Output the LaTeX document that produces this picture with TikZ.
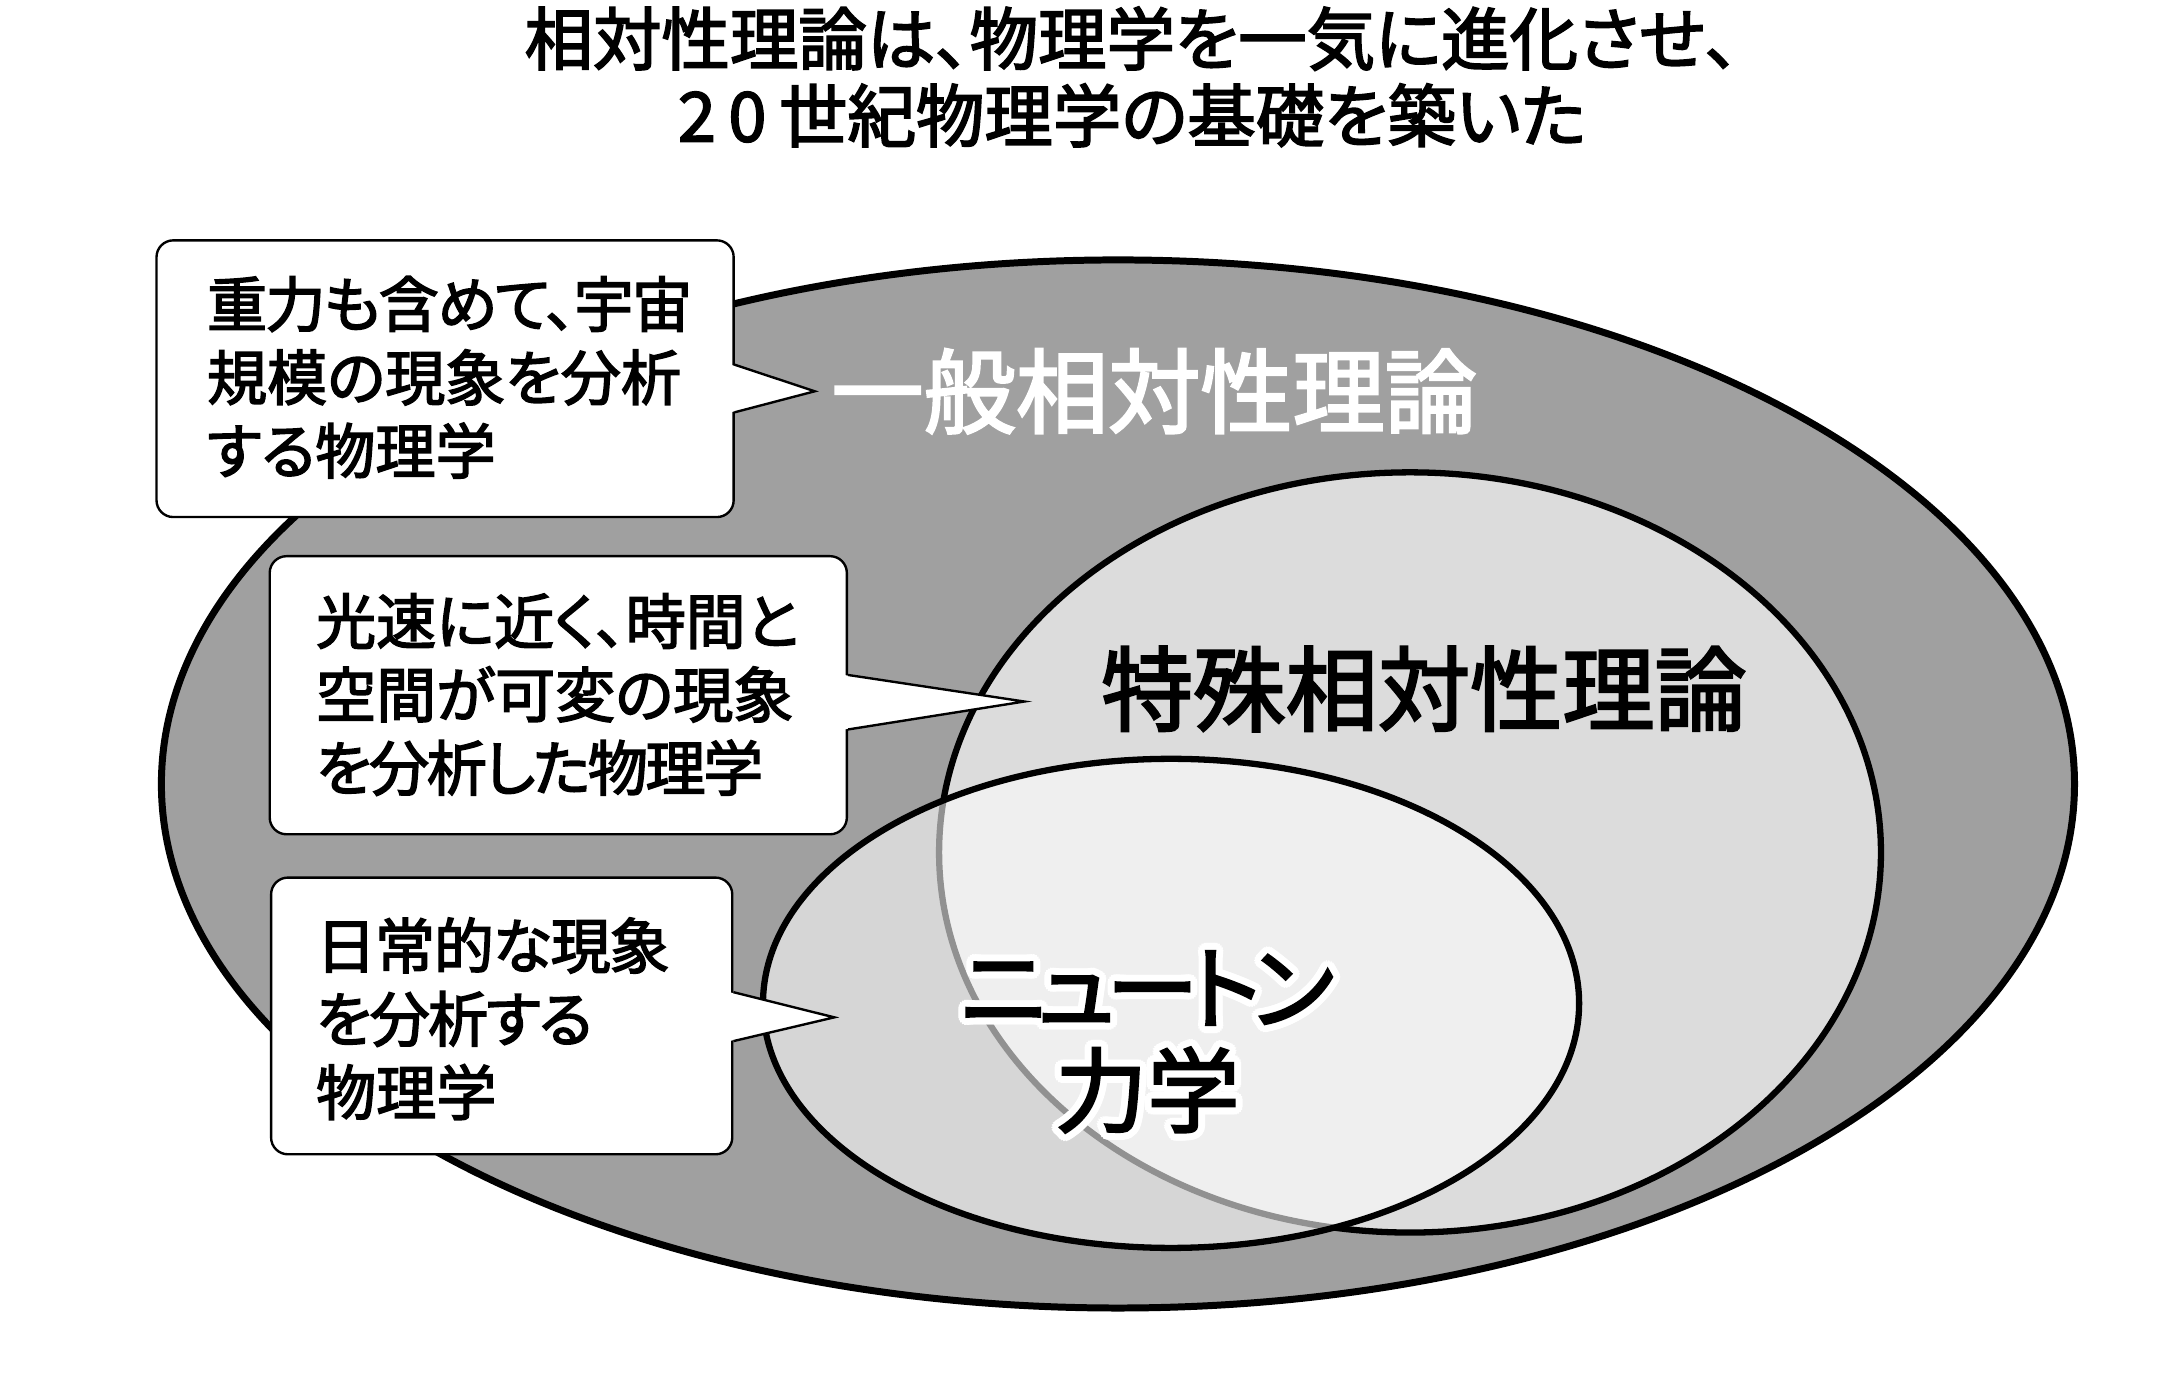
\documentclass[tikz,border=0pt]{standalone}
\usepackage{fontspec}
\setmainfont{Noto Sans CJK JP}[FakeBold=2.5, RawFeature=+palt]
\usetikzlibrary{calc}
\definecolor{outergray}{RGB}{160,160,160}
\definecolor{midgray}{RGB}{220,220,220}
\newcommand\boxfont{\fontsize{43}{52.5}\selectfont}
\newcommand\titlefont{\fontsize{49}{55}\selectfont}
\newcommand\bigfont{\fontsize{66}{73}\selectfont}
\newcommand\tight[2]{{\addfontfeature{LetterSpace=#1}#2}}
\tikzset{
  ell/.style={draw=black, line width=4.5pt},
  cbox/.style={draw=black, fill=white, rounded corners=12pt, line width=1.7pt, inner sep=0pt},
  ctext/.style={font=\boxfont, align=left, inner sep=0pt, anchor=west},
  ptr/.style={draw=black, line width=1.7pt, line join=miter},
  biglbl/.style={font=\bigfont, inner sep=0pt, align=center},
}
\begin{document}
\begin{tikzpicture}[x=1pt,y=-1pt]
\useasboundingbox (0,0) rectangle (1560,990.4);
\fill[white] (0,0) rectangle (1560,990.4);
% title
\node[font=\titlefont, align=center, inner sep=0pt] (title) at (810,55) {相対性理論は、物理学を一気に進化させ、\\2\kern9pt0\kern9pt世紀物理学の基礎を築いた};
% ellipses
\draw[ell, line width=5pt, fill=outergray] (800,561) ellipse [x radius=684.5pt, y radius=375pt];
\draw[ell, fill=midgray] (1009,610) ellipse [x radius=337pt, y radius=272pt];
\fill[white, fill opacity=0.57] (838,718) ellipse [x radius=292pt, y radius=175pt];
\draw[ell] (838,718) ellipse [x radius=292pt, y radius=175pt];
% labels
\node[biglbl, text=white] (gen) at (826,280) {一般相対性理論};
\node[biglbl, text=black] (spe) at (1019,493) {特殊相対性理論};
\coordinate (n1) at (821,707);
\coordinate (n2) at (821,780);
\newcommand\newtontext{ニ\kern-6ptュ\kern-6ptー\kern-6ptト\kern-6ptン}
\foreach \a in {0,20,...,340} {
  \node[biglbl, text=white] (halo1-\a) at ($(n1)+(\a:5)$) {\newtontext};
  \node[biglbl, text=white] (halo2-\a) at ($(n2)+(\a:5)$) {力学};
}
\node[biglbl, text=black] (newt) at (n1) {\newtontext};
\node[biglbl, text=black] (mech) at (n2) {力学};
% callout 1
\node[cbox, minimum width=413pt, minimum height=198pt] (b1) at (318.5,271) {};
\coordinate (p1) at (583,280);
\fill[white] ($(b1.east |- 0,261)+(-3,0)$) -- (p1) -- ($(b1.east |- 0,295)+(-3,0)$) -- cycle;
\draw[ptr] (b1.east |- 0,261) -- (p1) -- (b1.east |- 0,295);
\node[ctext] (t1) at (148,270) {\tight{-3}{重力も含めて、宇宙}\\規模の現象を分析\\する物理学};
% callout 2
\node[cbox, minimum width=413pt, minimum height=199pt] (b2) at (399.5,497.5) {};
\coordinate (p2) at (733,502);
\fill[white] ($(b2.east |- 0,483)+(-3,0)$) -- (p2) -- ($(b2.east |- 0,522)+(-3,0)$) -- cycle;
\draw[ptr] (b2.east |- 0,483) -- (p2) -- (b2.east |- 0,522);
\node[ctext] (t2) at (226,497) {光速に近く、時間と\\空間が可変の現象\\\tight{-4}{を分析した物理学}};
% callout 3
\node[cbox, minimum width=330pt, minimum height=198pt] (b3) at (359,727) {};
\coordinate (p3) at (597,728);
\fill[white] ($(b3.east |- 0,710)+(-3,0)$) -- (p3) -- ($(b3.east |- 0,745)+(-3,0)$) -- cycle;
\draw[ptr] (b3.east |- 0,710) -- (p3) -- (b3.east |- 0,745);
\node[ctext] (t3) at (226,729) {\tight{-2}{日常的な現象}\\\tight{-3}{を分析する}\\物理学};
\end{tikzpicture}
\end{document}
